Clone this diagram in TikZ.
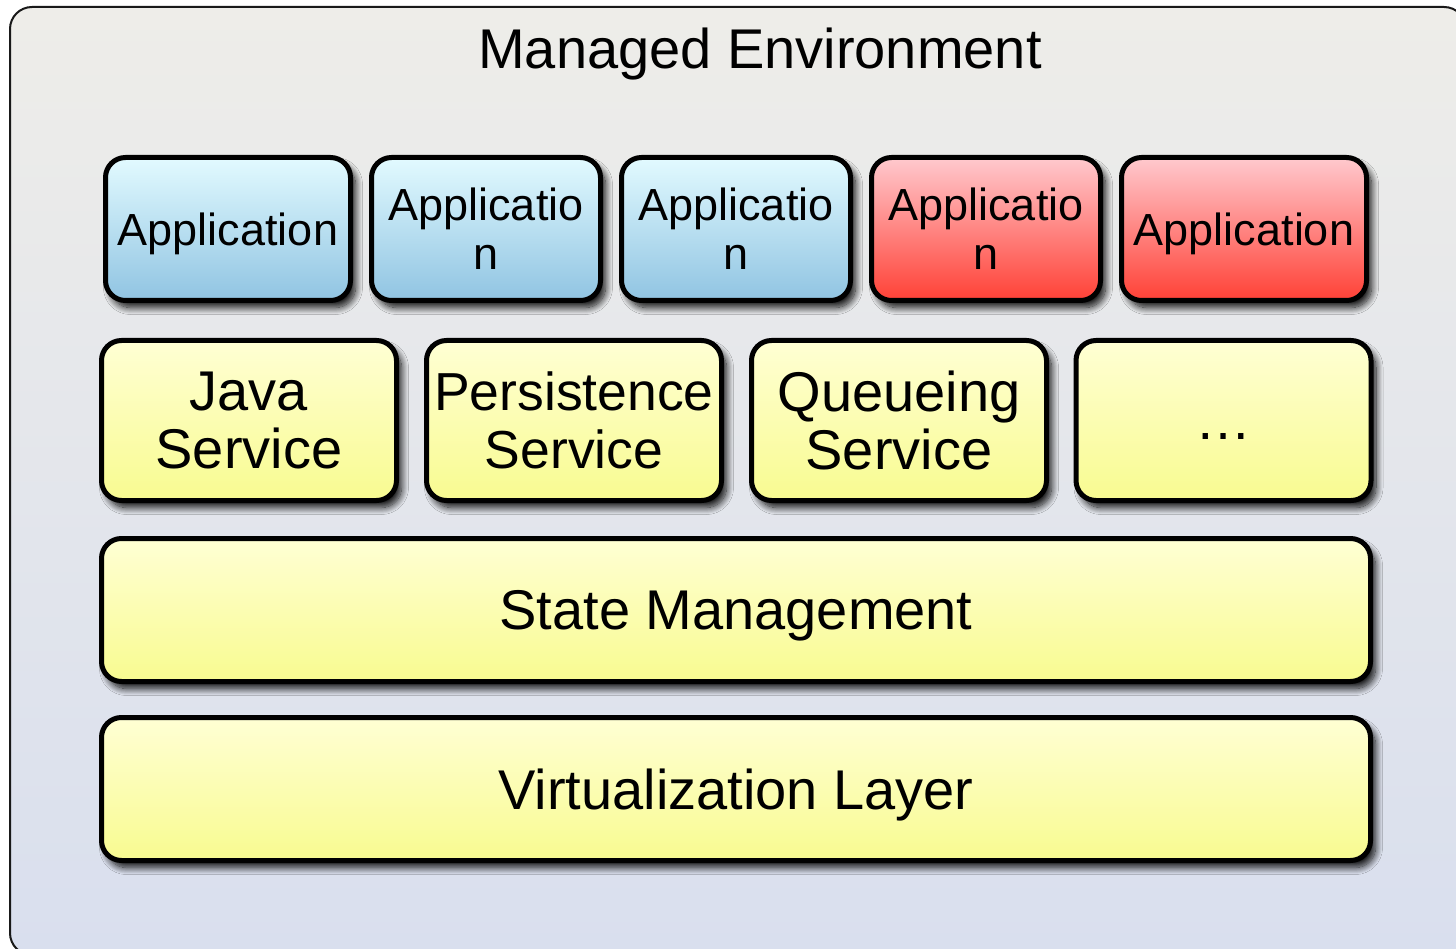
\documentclass[tikz,border=0pt]{standalone}
\usepackage{fontspec}
\setmainfont{Liberation Sans}
\usetikzlibrary{shadows.blur}
\definecolor{frametop}{HTML}{EEEDE9}
\definecolor{framebot}{HTML}{D9DFEE}
\definecolor{bluetop}{HTML}{E2FAFF}
\definecolor{bluebot}{HTML}{90C4E2}
\definecolor{redtop}{HTML}{FFC9CE}
\definecolor{redbot}{HTML}{FF4136}
\definecolor{yeltop}{HTML}{FFFFD4}
\definecolor{yelbot}{HTML}{F8FB90}
\tikzset{
  layerbox/.style={draw=black, line width=5pt, rounded corners=20pt, inner sep=0pt,
    align=center, text depth=0pt,
    blur shadow={shadow xshift=5pt, shadow yshift=-7pt, shadow blur radius=7pt, shadow opacity=95, shadow blur steps=14}},
  appbox/.style={layerbox, minimum height=143pt, font=\fontsize{45}{49}\selectfont},
  bluebox/.style={appbox, top color=bluetop, bottom color=bluebot},
  redbox/.style={appbox, top color=redtop, bottom color=redbot},
  svcbox/.style={layerbox, minimum height=160pt, minimum width=295pt, top color=yeltop, bottom color=yelbot, font=\fontsize{56}{58}\selectfont},
  widebox/.style={layerbox, minimum height=143pt, minimum width=1269pt, top color=yeltop, bottom color=yelbot, font=\fontsize{56}{60}\selectfont},
  frametitle/.style={inner sep=0pt, text depth=0pt, font=\fontsize{56}{60}\selectfont}
}
\begin{document}
\begin{tikzpicture}[x=1pt,y=-1pt]
\useasboundingbox (0,0) rectangle (1456,949);
\clip (0,0) rectangle (1456,949);
\fill[white] (0,0) rectangle (1456,949);
\draw[line width=2pt, draw=black!90, rounded corners=22pt, top color=frametop, bottom color=framebot] (10,7) rectangle (1466,955);
\node[frametitle] (title) at (760,48) {Managed Environment};
% applications
\node[bluebox, minimum width=245pt] (a1) at (228,229) {Application};
\node[bluebox, minimum width=229pt] (a2) at (486,229) {Applicatio\\n};
\node[bluebox, minimum width=229pt] (a3) at (736,229) {Applicatio\\n};
\node[redbox, minimum width=229pt] (a4) at (986,229) {Applicatio\\n};
\node[redbox, minimum width=245pt] (a5) at (1244,229) {Application};
% services
\node[svcbox] (s1) at (249,420.5) {Java\\Service};
\node[svcbox, font=\fontsize{53.5}{58}\selectfont] (s2) at (574,420.5) {Persistence\\Service};
\node[svcbox] (s3) at (899,420.5) {Queueing\\Service};
\node[svcbox] (s4) at (1223.5,420.5) {\vphantom{A}…};
% layers
\node[widebox] (state) at (736,610) {State Management};
\node[widebox] (virt) at (736,789) {Virtualization Layer};
\end{tikzpicture}
\end{document}
